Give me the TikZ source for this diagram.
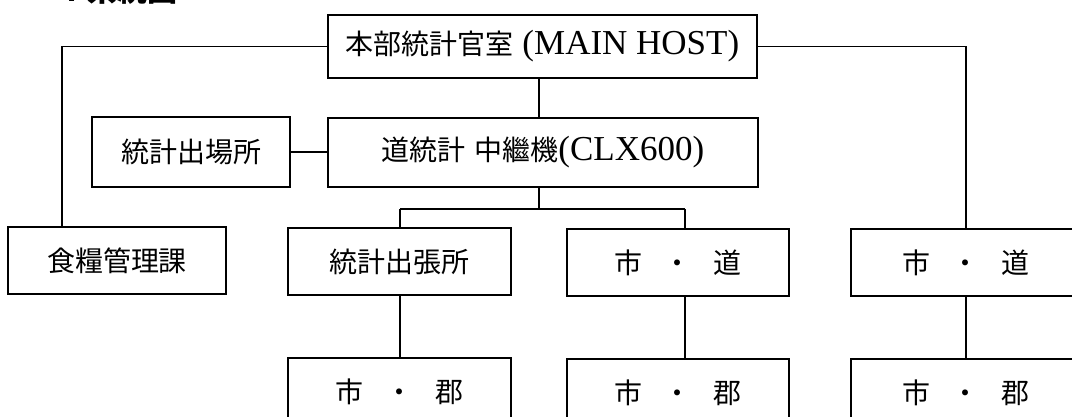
\documentclass[tikz,border=0pt]{standalone}
\usepackage{fontspec}
\setmainfont{Liberation Serif}
\newfontfamily\cjk{Noto Sans CJK JP}
\newcommand\lat[1]{{\rmfamily\fontsize{35}{36}\selectfont #1}}
\newcommand\sep{\hspace{22pt}}
\begin{document}
\begin{tikzpicture}[x=1pt,y=-1pt,
  box/.style={draw, line width=1.6pt, inner sep=0pt, anchor=center,
    font=\cjk\fontsize{28}{30}\selectfont},
  link/.style={line width=1.6pt},
  title/.style={anchor=base west, font=\cjk\bfseries\fontsize{30}{30}\selectfont}]
\useasboundingbox (0,0) rectangle (1072,417);
\clip (0,0) rectangle (1072,417);
% title (clipped at top)
\node[title] (tnum) at (56,2) {4};
\node[title] (ttl) at (84,2) {系統図};
% boxes
\node[box, minimum width=429pt, minimum height=63pt] (top) at (542.5,46.5)
  {{\cjk 本部統計官室}\lat{ (MAIN HOST)}};
\node[box, minimum width=430pt, minimum height=69pt] (relay) at (543,152.5)
  {{\cjk 道統計}\lat{ }{\cjk 中繼機}\lat{(CLX600)}};
\node[box, minimum width=198pt, minimum height=70pt] (field) at (191,152) {統計出場所};
\node[box, minimum width=218pt, minimum height=67pt] (food) at (117,260.5) {食糧管理課};
\node[box, minimum width=223pt, minimum height=67pt] (branch) at (399.5,261.5) {統計出張所};
\node[box, minimum width=222pt, minimum height=67pt] (cityA) at (678,262.5) {市\sep ・\sep 道};
\node[box, minimum width=230pt, minimum height=67pt] (cityB) at (966,262.5) {市\sep ・\sep 道};
\node[box, minimum width=223pt, minimum height=67pt] (gunA) at (399.5,391.5) {市\sep ・\sep 郡};
\node[box, minimum width=222pt, minimum height=67pt] (gunB) at (678,392.5) {市\sep ・\sep 郡};
\node[box, minimum width=230pt, minimum height=67pt] (gunC) at (966,392.5) {市\sep ・\sep 郡};
% helper coordinates
\coordinate (lc) at (62,46.5);
\coordinate (mx) at (539,0);
\coordinate (jm) at (539,209);
\coordinate (jl) at (400,209);
\coordinate (jr) at (685,209);
% connectors
\draw[link] (top.west) -- (lc) -- (lc |- food.north);
\draw[link] (top.east) -| (cityB.north);
\draw[link] (top.south -| mx) -- (relay.north -| mx);
\draw[link] (field.east) -- (field.east -| relay.west);
\draw[link] (relay.south -| mx) -- (jm);
\draw[link] (jl) -- (jr);
\draw[link] (jl) -- (jl |- branch.north);
\draw[link] (jr) -- (jr |- cityA.north);
\draw[link] (branch.south -| jl) -- (gunA.north -| jl);
\draw[link] (cityA.south -| jr) -- (gunB.north -| jr);
\draw[link] (cityB.south) -- (gunC.north);
\end{tikzpicture}
\end{document}
